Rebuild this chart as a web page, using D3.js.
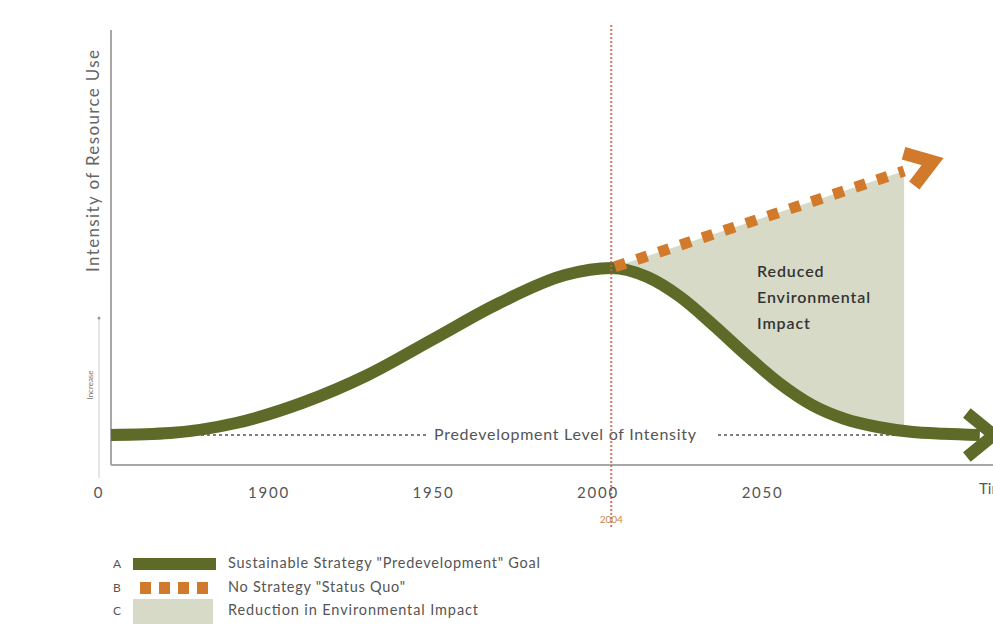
<!DOCTYPE html>
<html>
<head>
<meta charset="utf-8">
<script src="https://cdn.jsdelivr.net/npm/d3@7"></script>
<style>
  body { margin: 0; background: #fff; }
  svg text { font-family: Lato, "Open Sans", sans-serif; }
</style>
</head>
<body>
<div id="chart"></div>
<script>
// chart data
var years = [1852, 1870, 1890, 1910, 1930, 1950, 1970, 1990, 2004, 2015, 2025, 2035, 2045, 2055, 2065, 2075, 2085, 2095, 2105, 2116];
var sustainable = [7.5, 8, 10.5, 15.5, 22.5, 31.5, 40.5, 47.5, 49.25, 47, 42, 35, 27.5, 20.5, 15, 11.5, 9.5, 8.3, 7.8, 7.5];
var statusQuoYears = [2004, 2093];
var statusQuo = [49.25, 73.5];
var predevLevel = 7.5;
var tickYears = [1900, 1950, 2000, 2050];
var markerYear = 2004;
var legendLabels = ['Sustainable Strategy "Predevelopment" Goal', 'No Strategy "Status Quo"', 'Reduction in Environmental Impact'];
var legendKeys = ["A", "B", "C"];

var width = 993, height = 628;
var green = "#5e6b28", orange = "#d27a2b", fillGray = "#d8dac8", red = "#d0604a";

var svg = d3.select("#chart").append("svg")
  .attr("width", width)
  .attr("height", height);

var x = d3.scaleLinear().domain([1852, 2120]).range([111, 993]);
var y = d3.scaleLinear().domain([0, 108]).range([465, 33]);

var pts = years.map(function(d, i) { return [d, sustainable[i]]; });
var sq = statusQuoYears.map(function(d, i) { return [d, statusQuo[i]]; });

var line = d3.line()
  .x(function(d) { return x(d[0]); })
  .y(function(d) { return y(d[1]); })
  .curve(d3.curveMonotoneX);

// clip: area above the green curve
var defs = svg.append("defs");
defs.append("clipPath").attr("id", "above")
  .append("path")
  .attr("d", d3.area()
    .x(function(d) { return x(d[0]); })
    .y0(0)
    .y1(function(d) { return y(d[1]); })
    .curve(d3.curveMonotoneX)(pts));

// shaded reduction area
svg.append("path")
  .attr("clip-path", "url(#above)")
  .attr("fill", fillGray)
  .attr("d", d3.line()([
    [x(sq[0][0]), y(sq[0][1])],
    [x(sq[1][0]), y(sq[1][1])],
    [x(sq[1][0]), y(0)],
    [x(sq[0][0]), y(0)]
  ]) + "Z");

// axes
svg.append("line")
  .attr("x1", x.range()[0]).attr("x2", x.range()[0])
  .attr("y1", 30).attr("y2", y(0))
  .attr("stroke", "#a8a8a8").attr("stroke-width", 2);
svg.append("line")
  .attr("x1", x.range()[0]).attr("x2", width)
  .attr("y1", y(0)).attr("y2", y(0))
  .attr("stroke", "#a8a8a8").attr("stroke-width", 2);

// predevelopment dashed line, broken for the label
var labelY = y(predevLevel);
[[x.range()[0], 428], [718, 960]].forEach(function(seg) {
  svg.append("line")
    .attr("x1", seg[0]).attr("x2", seg[1])
    .attr("y1", labelY).attr("y2", labelY)
    .attr("stroke", "#555").attr("stroke-width", 1.3)
    .attr("stroke-dasharray", "3,3");
});
svg.append("text")
  .attr("x", 434).attr("y", labelY + 5)
  .attr("textLength", 262).attr("lengthAdjust", "spacing")
  .style("font-size", "16px").style("fill", "#555")
  .text("Predevelopment Level of Intensity");

// green curve + arrow head
svg.append("path")
  .attr("d", line(pts))
  .attr("fill", "none")
  .attr("stroke", green)
  .attr("stroke-width", 12);

function chevron(end, dir, ahead, back, half, color, w) {
  var tip = [end[0] + dir[0] * ahead, end[1] + dir[1] * ahead];
  var base = [tip[0] - dir[0] * back, tip[1] - dir[1] * back];
  var perp = [-dir[1], dir[0]];
  svg.append("path")
    .attr("d", d3.line()([
      [base[0] + perp[0] * half, base[1] + perp[1] * half],
      tip,
      [base[0] - perp[0] * half, base[1] - perp[1] * half]
    ]))
    .attr("fill", "none")
    .attr("stroke", color)
    .attr("stroke-width", w)
    .attr("stroke-linejoin", "miter");
}
var gEnd = pts[pts.length - 1];
chevron([x(gEnd[0]), y(gEnd[1])], [1, 0], 14, 27, 22, green, 12);

// orange status quo line
svg.append("line")
  .attr("x1", x(sq[0][0])).attr("y1", y(sq[0][1]))
  .attr("x2", x(sq[1][0])).attr("y2", y(sq[1][1]))
  .attr("stroke", orange)
  .attr("stroke-width", 11)
  .attr("stroke-dasharray", "11,12")
  .attr("stroke-dashoffset", -4);
var dx = x(sq[1][0]) - x(sq[0][0]), dy = y(sq[1][1]) - y(sq[0][1]);
var len = Math.sqrt(dx * dx + dy * dy);
chevron([x(sq[1][0]), y(sq[1][1])], [dx / len, dy / len], 30, 25, 17, orange, 13);

// 2004 marker
svg.append("line")
  .attr("x1", x(markerYear)).attr("x2", x(markerYear))
  .attr("y1", 25).attr("y2", 527)
  .attr("stroke", red).attr("stroke-width", 2)
  .attr("stroke-dasharray", "2,2")
  .attr("opacity", 0.85);

// tick labels
svg.selectAll(".tick")
  .data(tickYears)
  .enter().append("text")
  .attr("x", function(d) { return x(d); })
  .attr("y", 498)
  .attr("text-anchor", "middle")
  .style("font-size", "15px").style("letter-spacing", "1.8px").style("fill", "#555")
  .text(function(d) { return d; });
svg.append("text")
  .attr("x", 98).attr("y", 498)
  .attr("text-anchor", "middle")
  .style("font-size", "15px").style("fill", "#555")
  .text("0");
svg.append("text")
  .attr("x", 979).attr("y", 494)
  .style("font-size", "15px").style("fill", "#555")
  .text("Time");
svg.append("text")
  .attr("x", x(markerYear)).attr("y", 523)
  .attr("text-anchor", "middle")
  .style("font-size", "10px").style("fill", "#c9874a")
  .text(markerYear);

// y axis titles
svg.append("text")
  .attr("transform", "translate(99,161)rotate(-90)")
  .attr("text-anchor", "middle")
  .attr("textLength", 222).attr("lengthAdjust", "spacing")
  .style("font-size", "17px").style("fill", "#666")
  .text("Intensity of Resource Use");
svg.append("text")
  .attr("transform", "translate(93,385)rotate(-90)")
  .attr("text-anchor", "middle")
  .style("font-size", "8px").style("fill", "#777")
  .text("Increase");
svg.append("line")
  .attr("x1", 99).attr("x2", 99)
  .attr("y1", 318).attr("y2", 478)
  .attr("stroke", "#ccc").attr("stroke-width", 1);
svg.append("circle")
  .attr("cx", 99).attr("cy", 318).attr("r", 1.5)
  .attr("fill", "#999");

// area label
svg.selectAll(".arealabel")
  .data(["Reduced", "Environmental", "Impact"])
  .enter().append("text")
  .attr("x", 757)
  .attr("y", function(d, i) { return 277 + i * 26; })
  .style("font-size", "16px").style("font-weight", "600")
  .style("letter-spacing", "0.9px").style("fill", "#333")
  .text(function(d) { return d; });

// legend
var rows = [564, 588, 611];
var legendWidths = [312, 177, 250];
legendKeys.forEach(function(k, i) {
  svg.append("text")
    .attr("x", 113).attr("y", rows[i] + 4)
    .style("font-size", "12px").style("fill", "#555")
    .text(k);
  svg.append("text")
    .attr("x", 228).attr("y", rows[i] + 4)
    .attr("textLength", legendWidths[i]).attr("lengthAdjust", "spacing")
    .style("font-size", "14.5px").style("fill", "#555")
    .text(legendLabels[i]);
});
svg.append("rect")
  .attr("x", 133).attr("y", rows[0] - 6)
  .attr("width", 83).attr("height", 12)
  .attr("fill", green);
svg.append("line")
  .attr("x1", 140).attr("x2", 212)
  .attr("y1", rows[1]).attr("y2", rows[1])
  .attr("stroke", orange).attr("stroke-width", 12)
  .attr("stroke-dasharray", "11,8");
svg.append("rect")
  .attr("x", 133).attr("y", rows[2] - 12)
  .attr("width", 80).attr("height", 25)
  .attr("fill", fillGray);
</script>
</body>
</html>
